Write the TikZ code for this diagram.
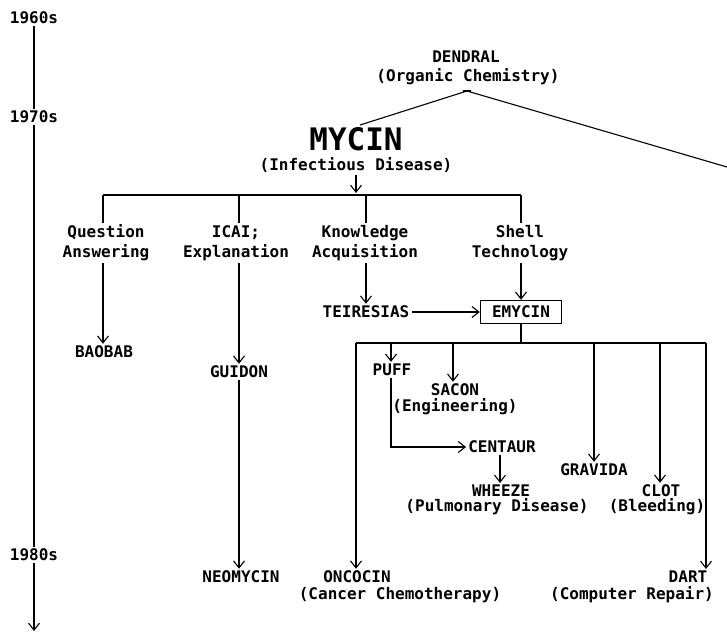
\documentclass[tikz,border=0pt]{standalone}
\usepackage{fontspec}
\setmainfont{DejaVu Sans Mono}
\usetikzlibrary{arrows.meta}
\tikzset{
  txt/.style={inner sep=2pt, font=\fontsize{16}{20}\selectfont\bfseries},
  nm/.style={inner sep=2pt, font=\fontsize{16}{20}\selectfont\bfseries},
  lbl/.style={inner sep=2pt, align=center, font=\fontsize{16}{20}\selectfont\bfseries},
  yr/.style={font=\fontsize{16}{20}\selectfont\bfseries, fill=white, inner sep=2pt},
  ln/.style={line width=1.1pt},
  bus/.style={line width=1.7pt},
  arr/.style={line width=1.1pt, -{Straight Barb[length=7pt,width=11pt,line width=1.1pt]}}
}
\begin{document}
\begin{tikzpicture}[x=1pt,y=-1pt]
\useasboundingbox (0,0) rectangle (727,635);

% timeline
\node[yr] (y60) at (34,18) {1960s};
\node[yr] (y70) at (34,117) {1970s};
\node[yr] (y80) at (34,555) {1980s};
\coordinate (tend) at (34,631);
\draw[ln] (y60.south) -- (y70.north);
\draw[ln] (y70.south) -- (y80.north);
\draw[arr] (y80.south) -- (tend);

% DENDRAL
\node[nm] (dendral) at (466,57) {DENDRAL};
\node[txt] (organic) at (468,77) {(Organic Chemistry)};
\coordinate (apex) at (467,91);
\coordinate (dl) at (360,125);
\coordinate (dr) at (727,167);
\draw[ln] (dl) -- (apex) -- (dr);
\draw[line width=2.2pt] ([xshift=-4pt]apex) -- ([xshift=4pt]apex);

% MYCIN
\node[inner sep=2pt, font=\fontsize{31}{31}\selectfont\bfseries] (mycin) at (356,139) {MYCIN};
\node[txt] (infect) at (356,165) {(Infectious Disease)};
\coordinate (b1m) at (356,193);
\draw[arr] (infect.south) -- (b1m);

% first bus
\coordinate (b1a) at (103,195);
\coordinate (b1b) at (239,195);
\coordinate (b1c) at (366,195);
\coordinate (b1d) at (521,195);
\draw[bus] (b1a) -- (b1d);

\node[lbl] (qa) at (106,243) {Question\\Answering};
\node[lbl] (icai) at (236,243) {ICAI;\\Explanation};
\node[lbl] (ka) at (365,243) {Knowledge\\Acquisition};
\node[lbl] (st) at (520,243) {Shell\\Technology};

\draw[ln] (b1a) -- (b1a |- qa.north);
\draw[ln] (b1b) -- (b1b |- icai.north);
\draw[ln] (b1c) -- (b1c |- ka.north);
\draw[ln] (b1d) -- (b1d |- st.north);

% second level
\node[nm] (baobab) at (104,352) {BAOBAB};
\node[nm] (guidon) at (239,372) {GUIDON};
\node[nm] (neomycin) at (241,577) {NEOMYCIN};
\node[nm] (teiresias) at (366,312) {TEIRESIAS};
\node[nm, draw, line width=1.4pt, minimum width=81pt, minimum height=23pt, inner sep=0pt] (emycin) at (521,312) {EMYCIN};

\draw[arr] (b1a |- qa.south) -- (b1a |- baobab.north);
\draw[arr] (b1b |- icai.south) -- (b1b |- guidon.north);
\draw[arr] (guidon.south -| b1b) -- (b1b |- neomycin.north);
\draw[arr] (b1c |- ka.south) -- (b1c |- teiresias.north);
\draw[arr] (b1d |- st.south) -- (emycin.north);
\draw[arr] (teiresias.east) -- (emycin.west);

% second bus
\coordinate (b2) at (521,343);
\coordinate (b2a) at (356,343);
\coordinate (b2b) at (391,343);
\coordinate (b2c) at (453,343);
\coordinate (b2d) at (594,343);
\coordinate (b2e) at (660,343);
\coordinate (b2f) at (706,343);
\draw[ln] (emycin.south) -- (b2);
\draw[bus] (b2a) -- (b2f);

\node[nm] (puff) at (392,370) {PUFF};
\node[nm] (sacon) at (455,390) {SACON};
\node[txt] (eng) at (455,407) {(Engineering)};
\node[nm] (centaur) at (502,447) {CENTAUR};
\node[nm] (wheeze) at (501,491) {WHEEZE};
\node[txt] (pulm) at (497,507) {(Pulmonary Disease)};
\node[nm] (gravida) at (594,470) {GRAVIDA};
\node[nm] (clot) at (661,491) {CLOT};
\node[txt] (bleed) at (657,507) {(Bleeding)};
\node[nm] (oncocin) at (357,577) {ONCOCIN};
\node[txt] (cancer) at (400,595) {(Cancer Chemotherapy)};
\node[nm] (dart) at (688,577) {DART};
\node[txt] (repair) at (632,595) {(Computer Repair)};

\draw[arr] (b2a) -- (b2a |- oncocin.north);
\draw[arr] (b2b) -- (b2b |- puff.north);
\draw[arr] (b2c) -- (b2c |- sacon.north);
\draw[arr] (b2d) -- (b2d |- gravida.north);
\draw[arr] (b2e) -- (b2e |- clot.north);
\draw[arr] (b2f) -- (b2f |- dart.north);
\draw[arr] (b2b |- puff.south) |- (centaur.west);
\draw[arr] ([xshift=-2pt]centaur.south) -- ([xshift=-2pt]centaur.south |- wheeze.north);
\end{tikzpicture}
\end{document}
